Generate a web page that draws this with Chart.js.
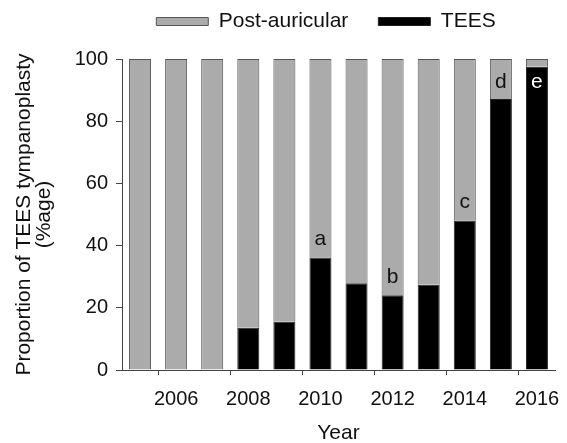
<!DOCTYPE html>
<html>
<head>
<meta charset="utf-8">
<script src="https://cdn.jsdelivr.net/npm/chart.js@4"></script>
<style>
  html, body { margin: 0; padding: 0; background: #fff; }
  #wrap { width: 567px; height: 443px; }
</style>
</head>
<body>
<div id="wrap"><canvas id="teesChart" width="567" height="443"></canvas></div>
<script>
const years = ['2005', '2006', '2007', '2008', '2009', '2010', '2011', '2012', '2013', '2014', '2015', '2016'];
const teesValues = [0, 0, 0, 13.6, 15.5, 36.2, 27.9, 24.0, 27.4, 48.1, 87.1, 97.5];
const postAuricularValues = teesValues.map(v => +(100 - v).toFixed(1));
const letters = ['', '', '', '', '', 'a', '', 'b', '', 'c', 'd', 'e'];
const yTicks = [0, 20, 40, 60, 80, 100];

const font = "'Liberation Sans', Arial, sans-serif";

// letters a-e over the bars
const letterPlugin = {
    id: 'letters',
    afterLayout(chart) {
        // move the legend up and over the plot centre
        const lg = chart.legend;
        const dx = 326 - (lg.left + lg.right) / 2;
        lg.left += dx; lg.right += dx;
        lg.top -= 33;
    },
    afterDatasetsDraw(chart) {
        const ctx = chart.ctx;
        const meta = chart.getDatasetMeta(0);
        const yScale = chart.scales.y;
        const topLimit = yScale.getPixelForValue(100) + 23;
        ctx.save();
        ctx.font = '21px ' + font;
        ctx.textAlign = 'center';
        ctx.textBaseline = 'middle';
        letters.forEach((letter, i) => {
            if (!letter) return;
            const bar = meta.data[i];
            let y = bar.y - 18;
            if (y < topLimit) y = topLimit;
            ctx.fillStyle = y > bar.y ? '#ffffff' : '#111111';
            ctx.fillText(letter, bar.x, y);
        });
        ctx.restore();
    }
};

function createTeesChart() {
    const ctx = document.getElementById('teesChart').getContext('2d');
    new Chart(ctx, {
        type: 'bar',
        data: {
            labels: years,
            datasets: [{
                label: 'TEES',
                data: teesValues,
                backgroundColor: '#000000',
                borderColor: '#222222',
                borderWidth: 1,
                barPercentage: 0.61,
                categoryPercentage: 1
            }, {
                label: 'Post-auricular',
                data: postAuricularValues,
                backgroundColor: '#ababab',
                borderColor: '#555555',
                borderWidth: 1,
                barPercentage: 0.61,
                categoryPercentage: 1
            }]
        },
        options: {
            responsive: false,
            animation: false,
            layout: { padding: { left: 0, right: 12, top: 14, bottom: 0 } },
            plugins: {
                tooltip: { enabled: false },
                legend: {
                    reverse: true,
                    maxHeight: 45,
                    labels: {
                        boxWidth: 52,
                        boxHeight: 8,
                        padding: 30,
                        color: '#111',
                        font: { family: font, size: 21 }
                    }
                }
            },
            scales: {
                x: {
                    stacked: true,
                    afterFit: s => { s.height = 73; s.paddingLeft = 0; s.paddingRight = 0; },
                    grid: {
                        drawOnChartArea: false,
                        drawTicks: true,
                        tickLength: 5,
                        color: c => (c.index % 2 === 1 ? '#444' : 'rgba(0,0,0,0)')
                    },
                    border: { display: true, color: '#444', width: 1 },
                    ticks: {
                        autoSkip: false,
                        maxRotation: 0,
                        padding: 12,
                        color: '#111',
                        font: { family: font, size: 20 },
                        callback: (v, i) => (i % 2 === 1 ? years[i] : '')
                    },
                    title: {
                        display: true,
                        text: 'Year',
                        color: '#111',
                        font: { family: font, size: 21, lineHeight: 0.9 },
                        padding: { top: 8, bottom: 0 }
                    }
                },
                y: {
                    stacked: true,
                    min: 0,
                    max: 100,
                    afterBuildTicks: s => { s.ticks = yTicks.map(v => ({ value: v })); },
                    afterFit: s => { s.width = 122; },
                    grid: {
                        drawOnChartArea: false,
                        drawTicks: true,
                        tickLength: 6,
                        color: '#444'
                    },
                    border: { display: true, color: '#444', width: 1 },
                    ticks: {
                        color: '#111',
                        padding: 8,
                        font: { family: font, size: 20 }
                    },
                    title: {
                        display: true,
                        text: ['Proportion of TEES tympanoplasty', '(%age)'],
                        color: '#111',
                        font: { family: font, size: 21, lineHeight: 0.95 },
                        padding: { top: 14, bottom: 4 }
                    }
                }
            }
        },
        plugins: [letterPlugin]
    });
}

document.addEventListener('DOMContentLoaded', createTeesChart);
</script>
</body>
</html>
